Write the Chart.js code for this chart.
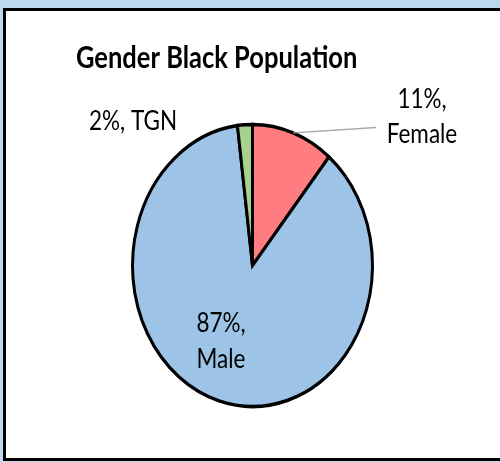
<!DOCTYPE html>
<html>
<head>
<meta charset="utf-8">
<script src="https://cdn.jsdelivr.net/npm/chart.js@4.4.1/dist/chart.umd.min.js"></script>
<style>
  html, body { margin: 0; padding: 0; }
  body { width: 500px; height: 462px; background: #bdd7ee; position: relative; overflow: hidden; }
  #frame {
    position: absolute; left: 3px; top: 8px; width: 496px; height: 447px;
    background: #fff;
    border-left: 3px solid #000; border-top: 3px solid #000; border-bottom: 3px solid #000;
    border-right: 1px solid #a6a6a6;
  }
  #wrap { position: absolute; left: 0; top: 0; width: 500px; height: 462px; }
</style>
</head>
<body>
<div id="frame"></div>
<div id="wrap"><canvas id="pieChart"></canvas></div>
<script>
const chartTitle = "Gender Black Population";
const genders = ["Female", "Male", "TGN"];
const shares = [11, 87, 2];
const sliceColors = ["#ff7c80", "#9dc3e6", "#a9d18e"];

// the original picture is squashed: the pie is taller than it is wide
const STRETCH = 1.175;
const FONT = "Lato, 'Liberation Sans', sans-serif";

function pushStretch(chart) {
  const arc = chart.getDatasetMeta(0).data[0];
  const ctx = chart.ctx;
  ctx.save();
  ctx.translate(arc.x, arc.y);
  ctx.scale(1, STRETCH);
  ctx.translate(-arc.x, -arc.y);
  return arc;
}

const stretchPlugin = {
  id: "stretch",
  beforeDatasetsDraw(chart) {
    pushStretch(chart);
  },
  afterDatasetsDraw(chart) {
    chart.ctx.restore();
  }
};

// title + Excel-like data labels, drawn in screen coordinates
const labelPlugin = {
  id: "excelLabels",
  afterDraw(chart) {
    const ctx = chart.ctx;
    const arcs = chart.getDatasetMeta(0).data;
    const center = pushStretch(chart);
    const sy = y => center.y + (y - center.y) / STRETCH;

    ctx.fillStyle = "#000";
    ctx.textBaseline = "alphabetic";

    ctx.font = "bold 25.5px " + FONT;
    ctx.textAlign = "left";
    ctx.fillText(chartTitle, 76, sy(68));

    ctx.font = "22.5px " + FONT;

    // Female: outside, with leader line
    const fem = arcs[0];
    const mid = (fem.startAngle + fem.endAngle) / 2;
    ctx.strokeStyle = "#a6a6a6";
    ctx.lineWidth = 1.2;
    ctx.beginPath();
    ctx.moveTo(fem.x + Math.cos(mid) * fem.outerRadius, fem.y + Math.sin(mid) * fem.outerRadius);
    ctx.lineTo(376, sy(127.5));
    ctx.stroke();
    ctx.textAlign = "center";
    ctx.fillText(shares[0] + "%,", 422, sy(108));
    ctx.fillText(genders[0], 422, sy(143));

    // Male: inside
    ctx.fillText(shares[1] + "%,", 221, sy(332));
    ctx.fillText(genders[1], 221, sy(368));

    // TGN: outside, one line
    ctx.textAlign = "left";
    ctx.fillText(shares[2] + "%, " + genders[2], 89, sy(130));

    ctx.restore();
  }
};

new Chart(document.getElementById("pieChart"), {
  type: "pie",
  data: {
    labels: genders,
    datasets: [
      {
        data: shares,
        backgroundColor: sliceColors,
        borderColor: "#000",
        borderWidth: 3,
        borderJoinStyle: "miter"
      }
    ]
  },
  options: {
    responsive: true,
    maintainAspectRatio: false,
    animation: false,
    events: [],
    layout: {
      padding: { left: 131, right: 126, top: 144, bottom: 75 }
    },
    plugins: {
      legend: { display: false },
      tooltip: { enabled: false },
      title: { display: false }
    }
  },
  plugins: [stretchPlugin, labelPlugin]
});
</script>
</body>
</html>
